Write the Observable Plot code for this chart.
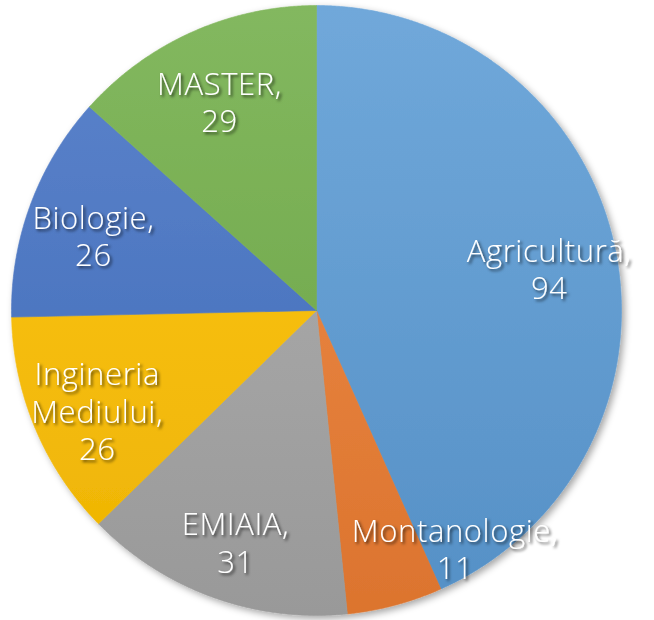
<!DOCTYPE html>
<html><head><meta charset="utf-8">
<script src="https://cdn.jsdelivr.net/npm/d3@7"></script>
<script src="https://cdn.jsdelivr.net/npm/@observablehq/plot@0.6"></script>
<style>html,body{margin:0;padding:0;background:#fff;} #chart svg{display:block;}</style>
</head><body><div id="chart"></div>
<script>
// ---- data ----
const categories = ["Agricultură", "Montanologie", "EMIAIA", "Ingineria Mediului", "Biologie", "MASTER"];
const values = [94, 11, 31, 26, 26, 29];
// ---- styles ----
const colors = ["#5b9bd5", "#ed7d31", "#a5a5a5", "#ffc000", "#4472c4", "#70ad47"];

const W = 654, H = 620, cx = 316, cy = 310, R = 305;
const fontSize = 31, lineHeight = 1.2, fontWeight = 300, letterSpacing = 0.6;
const fontFamily = "'Open Sans', 'DejaVu Sans', sans-serif";

const data = categories.map((c, i) => ({category: c, value: values[i], i}));
const arcs = d3.pie().sort(null).value(d => d.value)(data);

// slice outlines (sampled arc geometry) in unit coords, y up
const slices = arcs.map(a => {
  const n = Math.max(2, Math.ceil((a.endAngle - a.startAngle) / (Math.PI / 720)));
  const pts = [{x: 0, y: 0}];
  for (let k = 0; k <= n; k++) {
    const t = a.startAngle + (a.endAngle - a.startAngle) * k / n;
    pts.push({x: Math.sin(t), y: Math.cos(t)});
  }
  pts.push({x: 0, y: 0});
  return pts;
});

// label layout
const ctx = document.createElement("canvas").getContext("2d");
ctx.font = `${fontWeight} ${fontSize}px ${fontFamily}`;
try { ctx.letterSpacing = `${letterSpacing}px`; } catch (e) {}
const lineH = fontSize * lineHeight;
const labels = arcs.map(a => {
  const d = a.data;
  const words = d.category.split(" ");
  const lines = words.map((w, k) => k === words.length - 1 ? w + "," : w);
  lines.push(String(d.value));
  const w = d3.max(lines, l => ctx.measureText(l).width);
  const h = lines.length * lineH;
  const mid = (a.startAngle + a.endAngle) / 2;
  const f = 0.78;
  return {a, text: lines.join("\n"), w, h, px: cx + R * f * Math.sin(mid), py: cy - R * f * Math.cos(mid), value: d.value};
});
function overlap(p, q) {
  return Math.abs(p.px - q.px) < (p.w + q.w) / 2 && Math.abs(p.py - q.py) < (p.h + q.h) / 2;
}
function boundaryX(angle, py) {
  const t = (py - cy) / (-Math.cos(angle));
  return cx + t * Math.sin(angle);
}
for (let i = 0; i < labels.length; i++) {
  for (let j = 0; j < labels.length; j++) {
    if (i === j) continue;
    const p = labels[i], q = labels[j];
    if (p.value < q.value && overlap(p, q)) {
      const xs = [boundaryX(p.a.startAngle, p.py), boundaryX(p.a.endAngle, p.py)];
      if (p.px > q.px) p.px = Math.min(...xs) + 12 + p.w / 2;
      else p.px = Math.max(...xs) - 12 - p.w / 2;
    }
  }
}
const toUX = px => (px - cx) / R, toUY = py => (cy - py) / R;
const labelData = labels.map(l => ({x: toUX(l.px), y: toUY(l.py), text: l.text}));

const marks = slices.map((pts, i) =>
  Plot.line(pts, {x: "x", y: "y", fill: `url(#grad${i})`, stroke: `url(#grad${i})`, strokeWidth: 0.6, curve: "linear"})
);
marks.push(Plot.text(labelData, {
  x: "x", y: "y", text: "text", fill: "white", fontSize, lineHeight, fontWeight,
  fontFamily, textAnchor: "middle", lineAnchor: "middle", dy: 8
}));

const chart = Plot.plot({
  width: W, height: H,
  margin: 0,
  x: {domain: [-1, 1], range: [cx - R, cx + R], axis: null},
  y: {domain: [-1, 1], range: [cy + R, cy - R], axis: null},
  style: {background: "white", overflow: "visible"},
  marks
});

const svg = d3.select(chart);
const defs = svg.insert("defs", ":first-child");
colors.forEach((c, i) => {
  const g = defs.append("linearGradient").attr("id", `grad${i}`)
    .attr("gradientUnits", "userSpaceOnUse")
    .attr("x1", 0).attr("y1", cy - R).attr("x2", 0).attr("y2", cy + R);
  g.append("stop").attr("offset", "0%").attr("stop-color", d3.interpolateRgb(c, "white")(0.13));
  g.append("stop").attr("offset", "100%").attr("stop-color", d3.interpolateRgb(c, "black")(0.07));
});
const pieShadow = defs.append("filter").attr("id", "pieShadow").attr("x", "-10%").attr("y", "-10%").attr("width", "120%").attr("height", "120%");
pieShadow.append("feDropShadow").attr("dx", 3).attr("dy", 3).attr("stdDeviation", 3.5).attr("flood-color", "#000").attr("flood-opacity", 0.35);
const textShadow = defs.append("filter").attr("id", "textShadow").attr("x", "-20%").attr("y", "-20%").attr("width", "140%").attr("height", "140%");
textShadow.append("feDropShadow").attr("dx", 2).attr("dy", 2).attr("stdDeviation", 1.6).attr("flood-color", "#000").attr("flood-opacity", 0.65);

const pieGroup = svg.insert("g", "g[aria-label=line]").attr("filter", "url(#pieShadow)");
svg.selectAll("g[aria-label=line]").each(function() { pieGroup.node().appendChild(this); });
svg.selectAll("g[aria-label=text]").attr("filter", "url(#textShadow)").style("letter-spacing", `${letterSpacing}px`);

document.getElementById("chart").appendChild(chart);
</script>
</body></html>
